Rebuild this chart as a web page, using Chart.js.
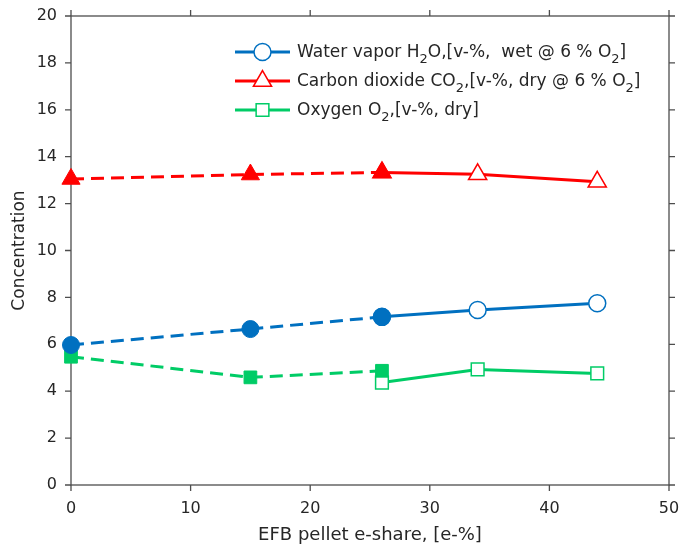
<!DOCTYPE html>
<html>
<head>
<meta charset="utf-8">
<script src="https://cdn.jsdelivr.net/npm/chart.js@4/dist/chart.umd.min.js"></script>
<style>
  html, body { margin: 0; padding: 0; background: #fff; }
</style>
</head>
<body>
<canvas id="chart" width="682" height="547"></canvas>
<script>
// e-share of EFB pellets in the fuel, [e-%]
const shareMeasured = [0, 15, 26];
const shareCalculated = [26, 34, 44];

// flue gas concentrations; measured points are the filled markers
const h2oMeasured = [5.97, 6.65, 7.17];
const h2oCalculated = [7.17, 7.46, 7.75];
const co2Measured = [13.05, 13.24, 13.33];
const co2Calculated = [13.33, 13.25, 12.93];
const o2Measured = [5.47, 4.59, 4.87];
const o2Calculated = [4.37, 4.93, 4.76];

const xTicks = [0, 10, 20, 30, 40, 50];
const yTicks = [0, 2, 4, 6, 8, 10, 12, 14, 16, 18, 20];

// legend labels, split so the "2" can be set as a subscript
const legendLabels = [
  [['Water vapor H'], ['2', 'sub'], ['O,[v-%,  wet @ 6 % O'], ['2', 'sub'], [']']],
  [['Carbon dioxide CO'], ['2', 'sub'], [',[v-%, dry @ 6 % O'], ['2', 'sub'], [']']],
  [['Oxygen O'], ['2', 'sub'], [',[v-%, dry]']]
];

const BLUE = '#0070c0';
const RED = '#ff0000';
const GREEN = '#00cc66';
const FONT = '"DejaVu Sans", Verdana, sans-serif';
const AXIS = '#4d4d4d';

const markers = [
  { color: BLUE, style: 'circle', radius: 8.5 },
  { color: RED, style: 'triangle', radius: 10.5 },
  { color: GREEN, style: 'rect', radius: 9 }
];

function points(xs, ys) {
  return xs.map((x, i) => ({ x: x, y: ys[i] }));
}

function measured(xs, ys, m) {
  return {
    data: points(xs, ys),
    borderColor: m.color,
    backgroundColor: m.color,
    borderWidth: 3,
    borderDash: [13, 7],
    pointStyle: m.style,
    pointRadius: m.radius,
    pointBorderWidth: 1,
    pointBackgroundColor: m.color,
    pointBorderColor: m.color,
    clip: false
  };
}

function calculated(xs, ys, m) {
  return {
    data: points(xs, ys),
    borderColor: m.color,
    backgroundColor: '#fff',
    borderWidth: 3,
    pointStyle: m.style,
    pointRadius: m.radius,
    pointBorderWidth: 1.5,
    pointBackgroundColor: '#fff',
    pointBorderColor: m.color,
    clip: false
  };
}

// box around the plot with outward ticks on all four sides
const frame = {
  id: 'frame',
  beforeDatasetsDraw(chart) {
    const { ctx, chartArea: a, scales: { x, y } } = chart;
    ctx.save();
    ctx.strokeStyle = AXIS;
    ctx.lineWidth = 1.3;
    ctx.strokeRect(a.left, a.top, a.right - a.left, a.bottom - a.top);
    ctx.beginPath();
    x.ticks.forEach(t => {
      const px = x.getPixelForValue(t.value);
      ctx.moveTo(px, a.bottom); ctx.lineTo(px, a.bottom + 6);
      ctx.moveTo(px, a.top); ctx.lineTo(px, a.top - 6);
    });
    y.ticks.forEach(t => {
      const py = y.getPixelForValue(t.value);
      ctx.moveTo(a.left, py); ctx.lineTo(a.left - 6, py);
      ctx.moveTo(a.right, py); ctx.lineTo(a.right + 6, py);
    });
    ctx.stroke();
    ctx.restore();
  }
};

// legend: solid line through an open marker, text with subscripts
const subLegend = {
  id: 'subLegend',
  afterDraw(chart) {
    const { ctx } = chart;
    const x0 = 235, x1 = 290, tx = 297;
    const rows = [52, 81, 110];
    ctx.save();
    legendLabels.forEach((parts, i) => {
      const m = markers[i];
      const ly = rows[i];
      ctx.strokeStyle = m.color;
      ctx.lineWidth = 3;
      ctx.setLineDash([]);
      ctx.beginPath();
      ctx.moveTo(x0, ly); ctx.lineTo(x1, ly);
      ctx.stroke();
      ctx.fillStyle = '#fff';
      ctx.lineWidth = 1.5;
      Chart.helpers.drawPoint(ctx, { pointStyle: m.style, radius: m.radius, rotation: 0, borderWidth: 1.5 }, (x0 + x1) / 2, ly);

      let cx = tx;
      ctx.fillStyle = '#262626';
      ctx.textBaseline = 'alphabetic';
      ctx.textAlign = 'left';
      parts.forEach(([text, kind]) => {
        const sub = kind === 'sub';
        ctx.font = (sub ? '13px ' : '17px ') + FONT;
        ctx.fillText(text, cx, ly + (sub ? 10.5 : 4.5));
        cx += ctx.measureText(text).width;
      });
    });
    ctx.restore();
  }
};

// no extra room for the end labels; the plot box sits at fixed margins
function noEdgePadding(s) {
  s.paddingLeft = 0;
  s.paddingRight = 0;
  s.paddingTop = 0;
  s.paddingBottom = 0;
}

new Chart(document.getElementById('chart'), {
  type: 'line',
  data: {
    datasets: [
      measured(shareMeasured, h2oMeasured, markers[0]),
      measured(shareMeasured, co2Measured, markers[1]),
      measured(shareMeasured, o2Measured, markers[2]),
      calculated(shareCalculated, h2oCalculated, markers[0]),
      calculated(shareCalculated, co2Calculated, markers[1]),
      calculated(shareCalculated, o2Calculated, markers[2])
    ]
  },
  options: {
    responsive: false,
    animation: false,
    events: [],
    layout: { padding: { top: 16, right: 13, left: 0, bottom: 0 } },
    plugins: { legend: { display: false }, tooltip: { enabled: false } },
    scales: {
      x: {
        type: 'linear',
        min: 0,
        max: 50,
        afterFit: s => { s.height = 62; noEdgePadding(s); },
        afterBuildTicks: s => { s.ticks = xTicks.map(v => ({ value: v })); },
        grid: { display: false, drawTicks: false },
        border: { display: false },
        ticks: { padding: 14, color: '#262626', font: { family: FONT, size: 16 } },
        title: {
          display: true,
          text: 'EFB pellet e-share, [e-%]',
          color: '#262626',
          font: { family: FONT, size: 18 },
          padding: { top: 0, bottom: 1 }
        }
      },
      y: {
        type: 'linear',
        min: 0,
        max: 20,
        afterFit: s => { s.width = 71; noEdgePadding(s); },
        afterBuildTicks: s => { s.ticks = yTicks.map(v => ({ value: v })); },
        grid: { display: false, drawTicks: false },
        border: { display: false },
        ticks: { padding: 14, color: '#262626', font: { family: FONT, size: 16 } },
        title: {
          display: true,
          text: 'Concentration',
          color: '#262626',
          font: { family: FONT, size: 17 },
          padding: { top: 9, bottom: 0 }
        }
      }
    }
  },
  plugins: [frame, subLegend]
});
</script>
</body>
</html>
